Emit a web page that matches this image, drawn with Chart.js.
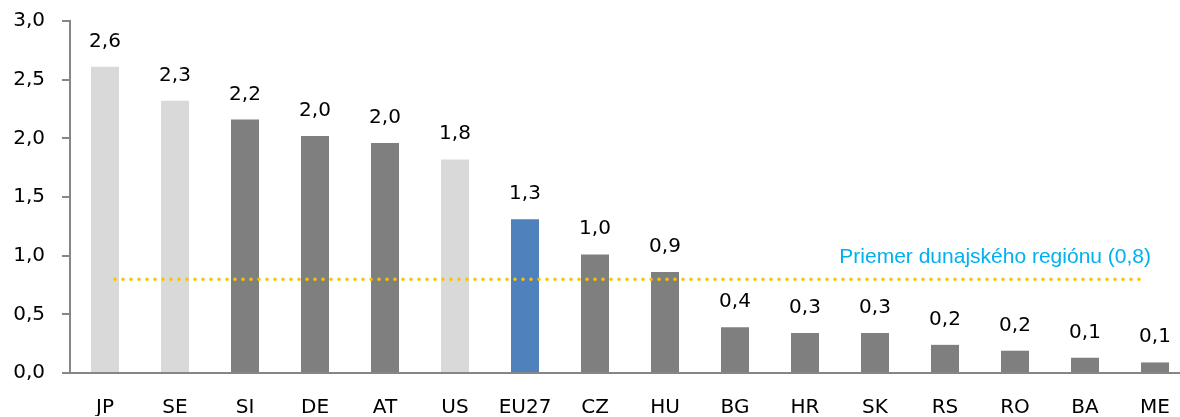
<!DOCTYPE html>
<html>
<head>
<meta charset="utf-8">
<script src="https://cdn.jsdelivr.net/npm/chart.js@4/dist/chart.umd.min.js"></script>
<style>
  html, body { margin: 0; padding: 0; background: #fff; overflow: hidden; }
  #wrap { width: 1194px; height: 417px; }
</style>
</head>
<body>
<div id="wrap"><canvas id="chart"></canvas></div>
<script>
// krajiny a hodnoty
const categories = ['JP', 'SE', 'SI', 'DE', 'AT', 'US', 'EU27', 'CZ', 'HU', 'BG', 'HR', 'SK', 'RS', 'RO', 'BA', 'ME'];
const values = [2.61, 2.32, 2.16, 2.02, 1.96, 1.82, 1.31, 1.01, 0.86, 0.39, 0.34, 0.34, 0.24, 0.19, 0.13, 0.09];
const barColors = ['#D9D9D9', '#D9D9D9', '#7F7F7F', '#7F7F7F', '#7F7F7F', '#D9D9D9', '#4F81BD', '#7F7F7F',
                   '#7F7F7F', '#7F7F7F', '#7F7F7F', '#7F7F7F', '#7F7F7F', '#7F7F7F', '#7F7F7F', '#7F7F7F'];
const yTicks = [0, 0.5, 1.0, 1.5, 2.0, 2.5, 3.0];
const regionAverage = 0.8;
const averageLabel = 'Priemer dunajského regiónu (0,8)';

const fmt = v => v.toFixed(1).replace('.', ',');
const FONT = 'DejaVu Sans';

// hodnoty nad stĺpcami
const valueLabels = {
    id: 'valueLabels',
    afterDatasetsDraw(chart) {
        const ctx = chart.ctx;
        const meta = chart.getDatasetMeta(0);
        ctx.save();
        ctx.font = '20px "' + FONT + '"';
        ctx.fillStyle = '#000';
        ctx.textAlign = 'center';
        ctx.textBaseline = 'alphabetic';
        meta.data.forEach((bar, i) => {
            ctx.fillText(fmt(values[i]), bar.x, bar.y - 20);
        });
        ctx.restore();
    }
};

// bodkovaná čiara priemeru
const averageLine = {
    id: 'averageLine',
    afterDatasetsDraw(chart) {
        const ctx = chart.ctx;
        const x = chart.scales.x;
        const y = chart.scales.y.getPixelForValue(regionAverage);
        const x0 = x.getPixelForValue(0) + 10;
        const x1 = x.getPixelForValue(categories.length - 1) - 4;
        ctx.save();
        ctx.strokeStyle = '#FFC000';
        ctx.lineWidth = 3.5;
        ctx.lineCap = 'round';
        ctx.setLineDash([0, 8]);
        ctx.beginPath();
        ctx.moveTo(x0, y);
        ctx.lineTo(x1 - 4, y);
        ctx.stroke();
        ctx.setLineDash([]);
        ctx.font = '21px "Liberation Sans"';
        ctx.fillStyle = '#00B0F0';
        ctx.textAlign = 'right';
        ctx.textBaseline = 'alphabetic';
        ctx.fillText(averageLabel, x1, y - 16);
        ctx.restore();
    }
};

new Chart(document.getElementById('chart'), {
    type: 'bar',
    data: {
        labels: categories,
        datasets: [{
            data: values,
            backgroundColor: barColors,
            barPercentage: 0.4,
            categoryPercentage: 1.0
        }]
    },
    options: {
        responsive: true,
        maintainAspectRatio: false,
        animation: false,
        layout: { padding: { top: 21, left: 13, right: 4, bottom: 1 } },
        plugins: {
            legend: { display: false },
            tooltip: { enabled: false }
        },
        scales: {
            x: {
                afterFit: scale => { scale.height = 43; scale.paddingLeft = 0; scale.paddingRight = 0; },
                grid: { display: true, drawOnChartArea: false, drawTicks: false },
                border: { color: '#868686', width: 2 },
                ticks: { color: '#000', font: { family: FONT, size: 20 }, padding: 23, maxRotation: 0 }
            },
            y: {
                min: 0,
                max: 3.0,
                afterBuildTicks: scale => { scale.ticks = yTicks.map(v => ({ value: v })); },
                afterFit: scale => { scale.width = 57; scale.paddingTop = 0; scale.paddingBottom = 0; },
                grid: { display: true, drawOnChartArea: false, tickLength: 8, color: '#868686', lineWidth: 2 },
                border: { color: '#868686', width: 2 },
                ticks: { color: '#000', font: { family: FONT, size: 20 }, padding: 17,
                         callback: v => fmt(v) }
            }
        }
    },
    plugins: [valueLabels, averageLine]
});
</script>
</body>
</html>
